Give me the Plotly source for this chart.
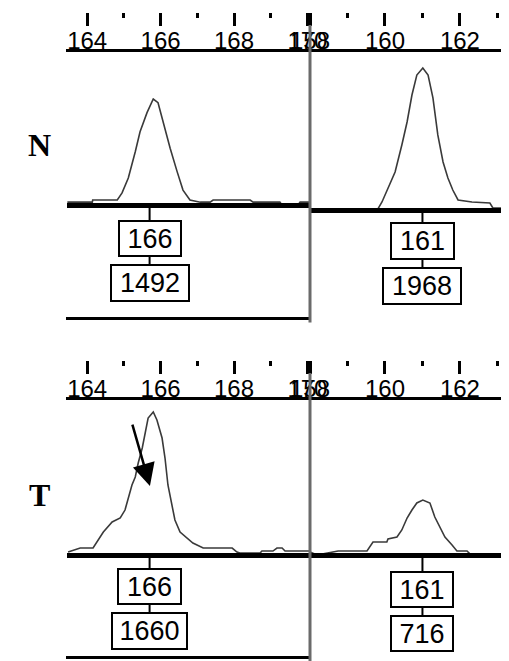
import plotly.graph_objects as go

# ---------------- data ----------------
# Normal (N) sample, left marker (bp, RFU)
n_left_bp = [163.46, 164.14, 164.15, 164.82, 164.95, 165.12, 165.31, 165.44, 165.63, 165.80,
             165.93, 166.07, 166.26, 166.45, 166.61, 166.80, 167.08, 167.35, 167.43, 168.44,
             168.52, 169.25, 169.31, 169.74, 169.80, 170.07]
n_left_rfu = [40, 40, 70, 70, 170, 380, 750, 1030, 1300, 1492,
              1440, 1160, 800, 470, 210, 70, 40, 40, 70, 70,
              40, 40, 0, 0, 40, 40]
# Normal (N) sample, right marker
n_right_bp = [158.00, 159.81, 159.92, 160.08, 160.27, 160.45, 160.59, 160.72, 160.85, 161.01,
              161.15, 161.28, 161.41, 161.55, 161.68, 161.81, 161.95, 162.32, 162.80, 162.88, 163.31]
n_right_rfu = [14, 14, 111, 305, 527, 901, 1220, 1594, 1871, 1968,
               1871, 1553, 1040, 665, 443, 277, 139, 111, 97, 28, 28]
# Tumour (T) sample, left marker
t_left_bp = [163.48, 163.81, 164.16, 164.30, 164.44, 164.68, 164.90, 165.03, 165.12, 165.22,
             165.31, 165.39, 165.50, 165.58, 165.66, 165.80, 165.90, 166.04, 166.12, 166.20,
             166.31, 166.39, 166.53, 166.72, 166.88, 167.16, 167.95, 168.08, 168.16, 168.71,
             168.76, 169.06, 169.17, 169.31, 169.39, 170.07]
t_left_rfu = [35, 81, 81, 174, 267, 383, 430, 522, 673, 813,
              906, 1068, 1242, 1428, 1590, 1660, 1567, 1358, 1126, 813,
              580, 406, 267, 197, 139, 81, 81, 35, 23, 23,
              46, 46, 81, 81, 46, 46]
# Tumour (T) sample, right marker
t_right_bp = [158.00, 158.19, 158.75, 159.52, 159.68, 160.05, 160.08, 160.32, 160.45, 160.59,
              160.72, 160.85, 161.01, 161.20, 161.33, 161.47, 161.60, 161.79, 161.92, 162.19,
              162.27, 162.48, 163.31]
t_right_rfu = [51, 13, 64, 64, 179, 179, 217, 243, 333, 486,
               588, 678, 716, 678, 499, 371, 243, 141, 64, 64,
               26, 26, 10]

# called alleles (size in bp, peak height)
allele_bp = [165.7, 161.0]
n_heights = [1492, 1968]
t_heights = [1660, 716]
size_labels = ["166", "161"]

# axis ticks
left_major = [164, 166, 168, 170]
left_minor = [165, 167, 169]
right_major = [158, 160, 162]
right_minor = [159, 161, 163]
left_range = [163.45, 170.07]
right_range = [157.999, 163.31]

sample_names = ["N", "T"]
arrow_target = (165.71, 800)

# ---------------- layout helpers ----------------
# the page places the figure 8 px in from the window corner; positions below are window pixels
OFF = 8
WIN_W, WIN_H = 509, 661
W, H = WIN_W - OFF, WIN_H - OFF

def py(p):
    return 1 - (p - OFF) / H

def px(p):
    return (p - OFF) / W

panels = [
    dict(x0=67, x1=310, zero=205, bot=203, top=50, s=14.08, bp=n_left_bp, rfu=n_left_rfu,
         rng=left_range, major=left_major, minor=left_minor, tick_y=12),
    dict(x0=310, x1=509, zero=210, bot=208, top=50, s=13.86, bp=n_right_bp, rfu=n_right_rfu,
         rng=right_range, major=right_major, minor=right_minor, tick_y=12),
    dict(x0=67, x1=310, zero=555, bot=553, top=398, s=11.61, bp=t_left_bp, rfu=t_left_rfu,
         rng=left_range, major=left_major, minor=left_minor, tick_y=360),
    dict(x0=310, x1=509, zero=556, bot=553, top=398, s=12.79, bp=t_right_bp, rfu=t_right_rfu,
         rng=right_range, major=right_major, minor=right_minor, tick_y=360),
]

fig = go.Figure()
layout = dict(width=W, height=H,
              margin=dict(l=0, r=0, t=0, b=0, pad=0, autoexpand=False), autosize=False,
              paper_bgcolor="white", plot_bgcolor="rgba(0,0,0,0)", showlegend=False)

for i, p in enumerate(panels):
    xa = 2 * i + 1
    xt = 2 * i + 2
    ya = i + 1
    fig.add_trace(go.Scatter(x=p["bp"], y=p["rfu"], mode="lines",
                             line=dict(color="#3a3a3a", width=1.6),
                             xaxis=f"x{xa}", yaxis=f"y{ya}", hoverinfo="skip"))
    fig.add_trace(go.Scatter(x=[], y=[], xaxis=f"x{xt}", yaxis=f"y{ya}", hoverinfo="skip"))
    dom_x = [px(p["x0"]), min(1.0, px(p["x1"]))]
    layout[f"xaxis{xa}"] = dict(domain=dom_x, range=p["rng"], anchor=f"y{ya}",
                                showline=True, linewidth=5, linecolor="black", automargin=False,
                                ticks="", showticklabels=False, showgrid=False, zeroline=False)
    layout[f"yaxis{ya}"] = dict(domain=[py(p["bot"]), py(p["top"])],
                                range=[(p["zero"] - p["bot"]) * p["s"], (p["zero"] - p["top"]) * p["s"]],
                                anchor=f"x{xa}", visible=False, showgrid=False, zeroline=False,
                                automargin=False)
    layout[f"xaxis{xt}"] = dict(domain=dom_x, range=p["rng"], anchor="free", automargin=False,
                                position=py(p["tick_y"]), side="bottom", overlaying=f"x{xa}",
                                showline=False, showgrid=False, zeroline=False,
                                ticks="outside", ticklen=13, tickwidth=3, tickcolor="black",
                                tickmode="array", tickvals=p["major"],
                                ticktext=[str(v) for v in p["major"]],
                                tickfont=dict(family="Liberation Sans", size=24, color="black"),
                                ticklabelstandoff=-6,
                                minor=dict(tickmode="array", tickvals=p["minor"], ticks="outside",
                                           ticklen=5, tickwidth=3, tickcolor="black"))

shapes = []
line_k = dict(type="line", xref="paper", yref="paper")
for top_y, tick_y, bottom_y in [(50.5, 25, 318.5), (398.5, 373, 657.5)]:
    shapes.append(dict(line_k, x0=px(66), x1=1.0, y0=py(top_y), y1=py(top_y),
                       line=dict(color="black", width=3)))
    shapes.append(dict(line_k, x0=px(66), x1=px(310), y0=py(bottom_y), y1=py(bottom_y),
                       line=dict(color="black", width=3)))
    shapes.append(dict(line_k, x0=px(310), x1=px(310), y0=py(tick_y), y1=max(0.0, py(bottom_y + 4)),
                       line=dict(color="#6a6a6a", width=3)))

annotations = []
box_geo = [
    (0, 0, 238.5, 64, 37, 283, 80, 38, [(208, 220), (257, 264)]),
    (1, 1, 241, 65, 38, 286, 80, 38, [(212, 222), (260, 267)]),
    (2, 0, 586.5, 65, 37, 631, 77, 38, [(558, 568), (605, 612)]),
    (3, 1, 589.5, 64, 37, 633.5, 64, 37, [(558, 571), (608, 615)]),
]
heights_by_panel = [n_heights, n_heights, t_heights, t_heights]
for pi, ai, cy1, w1, h1, cy2, w2, h2, stems in box_geo:
    xa = f"x{2 * pi + 1}"
    xval = allele_bp[ai]
    for txt, cy, w, h in [(size_labels[ai], cy1, w1, h1), (str(heights_by_panel[pi][ai]), cy2, w2, h2)]:
        annotations.append(dict(x=xval, xref=xa, y=py(cy), yref="paper", text=txt,
                                showarrow=False, xanchor="center", yanchor="middle",
                                width=w - 4, height=h - 4, borderpad=0, borderwidth=2,
                                bordercolor="black", bgcolor="white",
                                font=dict(family="Liberation Sans", size=27, color="black")))
    for s0, s1 in stems:
        shapes.append(dict(type="line", xref=xa, yref="paper", x0=xval, x1=xval,
                           y0=py(s0), y1=py(s1), line=dict(color="black", width=2)))

annotations.append(dict(x=arrow_target[0], y=arrow_target[1], xref="x5", yref="y3",
                        ax=-18, ay=-63, axref="pixel", ayref="pixel", text="",
                        showarrow=True, arrowhead=2, arrowsize=1.8, arrowwidth=2.5,
                        arrowcolor="black"))

for name, cy, cx in [(sample_names[0], 145, 40), (sample_names[1], 495, 39)]:
    annotations.append(dict(x=px(cx), y=py(cy), xref="paper", yref="paper", text=f"<b>{name}</b>",
                            showarrow=False, xanchor="center", yanchor="middle",
                            font=dict(family="Liberation Serif", size=32, color="black")))

layout["shapes"] = shapes
layout["annotations"] = annotations
fig.update_layout(**layout)
fig.write_html("out.html")
